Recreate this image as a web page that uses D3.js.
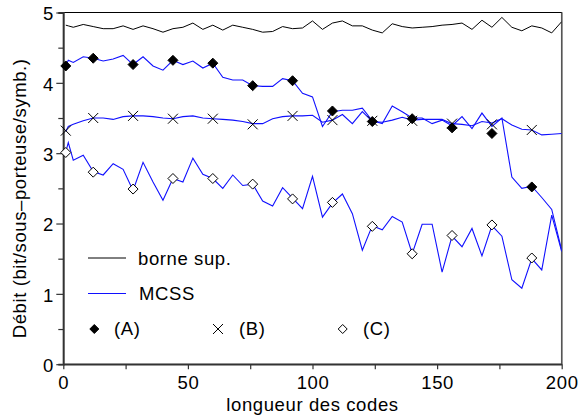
<!DOCTYPE html>
<html><head><meta charset="utf-8">
<script src="https://cdn.jsdelivr.net/npm/d3@7"></script>
<style>
body{margin:0;background:#fff;}
svg{display:block;font-family:"Liberation Sans",Arial,Helvetica,sans-serif;}
</style></head>
<body>
<svg id="chart" width="579" height="416"></svg>
<script>
// ---- data ----
const codeLengths = [1,2,4,8,12,16,20,24,28,32,36,40,44,48,52,56,60,64,68,72,76,80,84,88,92,96,100,
  104,108,112,116,120,124,128,132,136,140,144,148,152,156,160,164,168,172,176,180,184,188,192,196,200];
const borneSup = [4.82,4.81,4.79,4.83,4.80,4.77,4.77,4.81,4.76,4.81,4.77,4.72,4.77,4.79,4.85,4.76,4.82,4.75,4.82,4.79,4.76,4.72,4.73,4.80,4.77,4.78,4.88,
  4.76,4.85,4.88,4.81,4.81,4.75,4.71,4.84,4.80,4.78,4.79,4.80,4.82,4.83,4.85,4.76,4.89,4.79,4.93,4.79,4.74,4.81,4.78,4.71,4.87];
const mcssA = [4.24,4.32,4.29,4.37,4.35,4.31,4.34,4.39,4.26,4.37,4.24,4.18,4.32,4.26,4.31,4.21,4.28,4.08,4.04,4.04,3.96,3.95,3.95,4.06,4.03,3.85,3.80,
  3.38,3.59,3.61,3.61,3.64,3.46,3.42,3.67,3.59,3.50,3.50,3.42,3.47,3.39,3.52,3.35,3.57,3.38,3.50,2.66,2.50,2.53,2.37,2.20,1.62];
const mcssB = [3.31,3.38,3.41,3.46,3.50,3.50,3.48,3.52,3.53,3.53,3.52,3.50,3.49,3.52,3.53,3.50,3.49,3.48,3.47,3.45,3.42,3.42,3.49,3.52,3.53,3.53,3.54,
  3.44,3.47,3.55,3.42,3.59,3.45,3.44,3.47,3.51,3.47,3.48,3.48,3.48,3.42,3.41,3.39,3.45,3.43,3.49,3.40,3.34,3.33,3.26,3.27,3.28];
const mcssC = [3.02,3.15,2.90,2.97,2.74,2.69,2.85,2.77,2.47,2.87,2.59,2.33,2.64,2.59,2.93,2.70,2.64,2.50,2.69,2.54,2.56,2.32,2.25,2.51,2.36,2.21,2.67,
  2.09,2.29,2.42,2.14,1.62,1.97,1.91,2.10,2.02,1.57,1.99,1.99,1.31,1.82,1.67,1.93,1.54,1.97,1.82,1.20,1.08,1.50,1.34,2.12,1.60];
const markerX = [1,12,28,44,60,76,92,108,124,140,156,172,188];
const markerA = [4.24,4.35,4.26,4.32,4.28,3.96,4.03,3.60,3.45,3.49,3.36,3.28,2.52];
const markerB = [3.32,3.50,3.53,3.49,3.49,3.41,3.53,3.47,3.46,3.46,3.42,3.41,3.33];
const markerC = [3.01,2.73,2.49,2.64,2.64,2.56,2.35,2.30,1.96,1.57,1.83,1.98,1.51];
const xTicks = [0,25,50,75,100,125,150,175,200];
const yTicks = [0,0.5,1,1.5,2,2.5,3,3.5,4,4.5,5];
const legendLabels = ["borne sup.","MCSS","(A)","(B)","(C)"];
const xTitle = "longueur des codes";
const yTitle = "Débit (bit/sous–porteuse/symb.)";

// ---- drawing ----
const svg = d3.select("#chart");
const L = 63.3, R = 561.7, T = 12.5, B = 364.2;
const x = d3.scaleLinear().domain([0,200]).range([L,R]);
const y = d3.scaleLinear().domain([0,5]).range([B,T]);
const FS = 18.5;

// frame
svg.append("rect").attr("x",L).attr("y",T).attr("width",R-L).attr("height",B-T)
  .attr("fill","none").attr("stroke","#000").attr("stroke-width",1);
svg.append("line").attr("x1",R).attr("x2",R).attr("y1",T).attr("y2",B).attr("stroke","#555").attr("stroke-width",1.5);

// axes
const xAxis = d3.axisBottom(x).tickValues(xTicks).tickSize(5).tickSizeOuter(0).tickPadding(7)
  .tickFormat(d => d % 50 === 0 ? d : "");
const gx = svg.append("g").attr("transform",`translate(0,${B})`).call(xAxis);
const yAxis = d3.axisLeft(y).tickValues(yTicks).tickSizeOuter(0).tickPadding(3)
  .tickSize(5).tickFormat(d => Number.isInteger(d) ? d : "");
const gy = svg.append("g").attr("transform",`translate(${L},0)`).call(yAxis);
gy.selectAll(".tick line").attr("x2", d => Number.isInteger(d) ? -7 : -5);
gy.selectAll(".tick text").attr("x",-9.5).attr("dy","0.4em");
[gx,gy].forEach(g=>{
  g.select(".domain").attr("stroke","#333").attr("stroke-width",1.8);
  g.selectAll(".tick line").attr("stroke","#333").attr("stroke-width",1.2);
  g.selectAll(".tick text").attr("font-size",FS).attr("fill","#000")
    .attr("font-family","'Liberation Sans',Arial,sans-serif").style("letter-spacing","0.6px");
});

// titles
svg.append("text").attr("x",(L+R)/2).attr("y",411).attr("text-anchor","middle")
  .attr("font-size",FS).style("letter-spacing","0.6px").text(xTitle);
svg.append("text").attr("transform",`translate(26,${(T+B)/2+10}) rotate(-90)`).attr("text-anchor","middle")
  .attr("font-size",FS).style("letter-spacing","0.6px").text(yTitle);

// lines
const clip = svg.append("clipPath").attr("id","clip").append("rect")
  .attr("x",L).attr("y",T).attr("width",R-L).attr("height",B-T);
const line = d3.line().x((d,i)=>x(codeLengths[i])).y(d=>y(d));
const plot = svg.append("g").attr("clip-path","url(#clip)");
plot.append("path").datum(borneSup).attr("d",line).attr("fill","none").attr("stroke","#000").attr("stroke-width",1);
[mcssA,mcssB,mcssC].forEach(s=>{
  plot.append("path").datum(s).attr("d",line).attr("fill","none").attr("stroke","#1010ff").attr("stroke-width",1.1);
});

// markers
function diamond(g,cx,cy,filled){
  const r = filled ? 5 : 5;
  g.append("path").attr("d",`M${cx},${cy-r}L${cx+r},${cy}L${cx},${cy+r}L${cx-r},${cy}Z`)
    .attr("fill",filled?"#000":"#fff").attr("stroke","#000").attr("stroke-width",1);
}
function cross(g,cx,cy){
  const r = 5;
  g.append("path").attr("d",`M${cx-r},${cy-r}L${cx+r},${cy+r}M${cx-r},${cy+r}L${cx+r},${cy-r}`)
    .attr("stroke","#000").attr("stroke-width",1).attr("fill","none");
}
const mk = svg.append("g");
markerX.forEach((v,i)=>{
  diamond(mk, x(v), y(markerA[i]), true);
  cross(mk, x(v), y(markerB[i]));
  diamond(mk, x(v), y(markerC[i]), false);
});

// legend
const lg = svg.append("g");
lg.append("line").attr("x1",88).attr("x2",126).attr("y1",258).attr("y2",258).attr("stroke","#000").attr("stroke-width",1);
lg.append("text").attr("x",138).attr("y",264.5).attr("font-size",FS).style("letter-spacing","0.6px").text(legendLabels[0]);
lg.append("line").attr("x1",88).attr("x2",126).attr("y1",293.5).attr("y2",293.5).attr("stroke","#1010ff").attr("stroke-width",1.1);
lg.append("text").attr("x",139).attr("y",299.5).attr("font-size",FS).style("letter-spacing","0.6px").text(legendLabels[1]);
const ly = 329;
const dia = (cx,filled)=>{const r=4.5;lg.append("path").attr("d",`M${cx},${ly-r}L${cx+r},${ly}L${cx},${ly+r}L${cx-r},${ly}Z`)
  .attr("fill",filled?"#000":"#fff").attr("stroke","#000").attr("stroke-width",1);};
dia(94.3,true);
lg.append("text").attr("x",114).attr("y",335).attr("font-size",FS).style("letter-spacing","0.6px").text(legendLabels[2]);
lg.append("path").attr("d",`M213,${ly-5}L223,${ly+5}M213,${ly+5}L223,${ly-5}`).attr("stroke","#000").attr("stroke-width",1);
lg.append("text").attr("x",239).attr("y",335).attr("font-size",FS).style("letter-spacing","0.6px").text(legendLabels[3]);
dia(342.7,false);
lg.append("text").attr("x",363).attr("y",335).attr("font-size",FS).style("letter-spacing","0.6px").text(legendLabels[4]);
</script>
</body></html>
